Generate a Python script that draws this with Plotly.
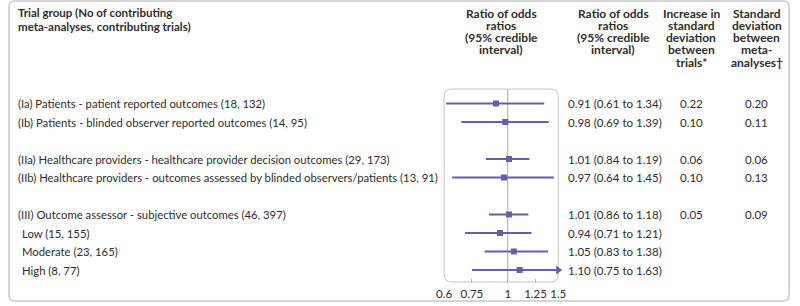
import math
import plotly.graph_objects as go

# ---------------- data ----------------
row_labels = [
    "(Ia) Patients - patient reported outcomes (18, 132)",
    "(Ib) Patients - blinded observer reported outcomes (14, 95)",
    "",
    "(IIa) Healthcare providers - healthcare provider decision outcomes (29, 173)",
    "(IIb) Healthcare providers - outcomes assessed by blinded observers/patients (13, 91)",
    "",
    "(III) Outcome assessor - subjective outcomes (46, 397)",
    " Low (15, 155)",
    " Moderate (23, 165)",
    " High (8, 77)",
]
ror = [0.91, 0.98, None, 1.01, 0.97, None, 1.01, 0.94, 1.05, 1.10]
ror_low = [0.61, 0.69, None, 0.84, 0.64, None, 0.86, 0.71, 0.83, 0.75]
ror_high = [1.34, 1.39, None, 1.19, 1.45, None, 1.18, 1.21, 1.38, 1.63]
sd_trials = ["0.22", "0.10", "", "0.06", "0.10", "", "0.05", "", "", ""]
sd_meta = ["0.20", "0.11", "", "0.06", "0.13", "", "0.09", "", "", ""]
tick_vals = [0.6, 0.75, 1, 1.25, 1.5]
tick_text = ["0.6", "0.75", "1", "1.25", "1.5"]
x_min, x_max = 0.6, 1.5

header_left = ["Trial group (No of contributing", "meta-analyses, contributing trials)"]
header_cols = [
    ["Ratio of odds", "ratios", "(95% credible", "interval)"],
    ["Ratio of odds", "ratios", "(95% credible", "interval)"],
    ["Increase in", "standard", "deviation", "between", "trials*"],
    ["Standard", "deviation", "between", "meta-", "analyses\u2020"],
]

# ---------------- layout constants ----------------
W, H = 800, 306
FONT = "Lato"
TXT = "#2e2e2e"
PURPLE = "#6a5cad"
BF = 11.3   # body font size
HF = 12     # header font size
px_x = lambda p: p / W
px_y = lambda p: 1 - p / H

panel_l, panel_r, panel_t, panel_b = 445, 561.5, 89, 282
row0, row_step = 103.5, 18.5
y_top = (panel_t - row0) / row_step
y_bot = (panel_b - row0) / row_step

fig = go.Figure()

# CI lines
for i, (m, lo, hi) in enumerate(zip(ror, ror_low, ror_high)):
    if m is None:
        continue
    hi_c = min(hi, x_max)
    fig.add_trace(go.Scatter(x=[lo, hi_c], y=[i, i], mode="lines",
                             line=dict(color=PURPLE, width=2), showlegend=False, hoverinfo="skip"))
    if hi > x_max:
        fig.add_trace(go.Scatter(x=[x_max], y=[i], mode="markers",
                                 marker=dict(symbol="triangle-right", size=8, color=PURPLE),
                                 showlegend=False, hoverinfo="skip", cliponaxis=False))

pts = [(i, m) for i, m in enumerate(ror) if m is not None]
fig.add_trace(go.Scatter(x=[p[1] for p in pts], y=[p[0] for p in pts], mode="markers",
                         marker=dict(symbol="square", size=6, color=PURPLE),
                         showlegend=False, hoverinfo="skip"))

# reference line at 1
fig.add_shape(type="line", xref="x", yref="paper", x0=1, x1=1,
              y0=px_y(panel_b), y1=px_y(panel_t), line=dict(color="#aaaaaa", width=1), layer="below")


def rounded_path(l, t, r, b, rad):
    rx, ry = rad / W, rad / H
    L, R, T, B = px_x(l), px_x(r), px_y(t), px_y(b)
    return (f"M {L+rx},{T} L {R-rx},{T} Q {R},{T} {R},{T-ry} "
            f"L {R},{B+ry} Q {R},{B} {R-rx},{B} L {L+rx},{B} Q {L},{B} {L},{B+ry} "
            f"L {L},{T-ry} Q {L},{T} {L+rx},{T} Z")


fig.add_shape(type="path", xref="paper", yref="paper",
              path=rounded_path(panel_l, panel_t, panel_r, panel_b, 8),
              line=dict(color="#c4c4c4", width=1), layer="below")
fig.add_shape(type="path", xref="paper", yref="paper",
              path=rounded_path(1, 1, 797, 301, 6),
              line=dict(color="#c8c8c8", width=1.5), layer="below")

ann = []
for k, line in enumerate(header_left):
    ann.append(dict(x=px_x(8), y=px_y(13 + 13.3 * k), text=line, xanchor="left", yanchor="middle",
                    font=dict(size=HF - 0.5, family=FONT, color=TXT, weight="bold")))
col_centers = [503.5, 617.5, 697, 764]
for cx, lines in zip(col_centers, header_cols):
    for k, line in enumerate(lines):
        ann.append(dict(x=px_x(cx), y=px_y(13.3 + 12.2 * k), text=line, xanchor="center",
                        yanchor="middle", font=dict(size=HF, family=FONT, color=TXT, weight="bold")))

for i, lab in enumerate(row_labels):
    if lab:
        ann.append(dict(x=px_x(8 + (4 if lab.startswith(" ") else 0)), y=i, yref="y", text=lab.strip(),
                        xanchor="left", yanchor="middle",
                        font=dict(size=BF, family=FONT, color=TXT)))
    if ror[i] is not None:
        ann.append(dict(x=px_x(569), y=i, yref="y",
                        text=f"{ror[i]:.2f} ({ror_low[i]:.2f} to {ror_high[i]:.2f})",
                        xanchor="left", yanchor="middle", font=dict(size=BF + 0.2, family=FONT, color=TXT)))
    if sd_trials[i]:
        ann.append(dict(x=px_x(697), y=i, yref="y", text=sd_trials[i], xanchor="center",
                        yanchor="middle", font=dict(size=BF + 0.2, family=FONT, color=TXT)))
    if sd_meta[i]:
        ann.append(dict(x=px_x(764), y=i, yref="y", text=sd_meta[i], xanchor="center",
                        yanchor="middle", font=dict(size=BF + 0.2, family=FONT, color=TXT)))

for a in ann:
    a.setdefault("xref", "paper")
    a.setdefault("yref", "paper")
    a["showarrow"] = False

fig.update_layout(
    width=W, height=H, margin=dict(l=0, r=0, t=0, b=0),
    paper_bgcolor="white", plot_bgcolor="rgba(0,0,0,0)",
    annotations=ann,
    xaxis=dict(type="log", domain=[px_x(panel_l), px_x(panel_r)],
               range=[math.log10(x_min), math.log10(x_max)],
               tickvals=tick_vals, ticktext=tick_text, ticks="inside", ticklen=3,
               tickcolor="#aaaaaa", showgrid=False, zeroline=False, showline=False,
               ticklabelstandoff=3,
               tickfont=dict(size=11.5, family=FONT, color=TXT), fixedrange=True),
    yaxis=dict(range=[y_bot, y_top], domain=[px_y(panel_b), px_y(panel_t)],
               showticklabels=False, showgrid=False, zeroline=False, ticks="", fixedrange=True),
    showlegend=False,
)

fig.write_html("out.html", config={"displayModeBar": False, "staticPlot": True},
               post_script="document.body.style.margin='0';")
